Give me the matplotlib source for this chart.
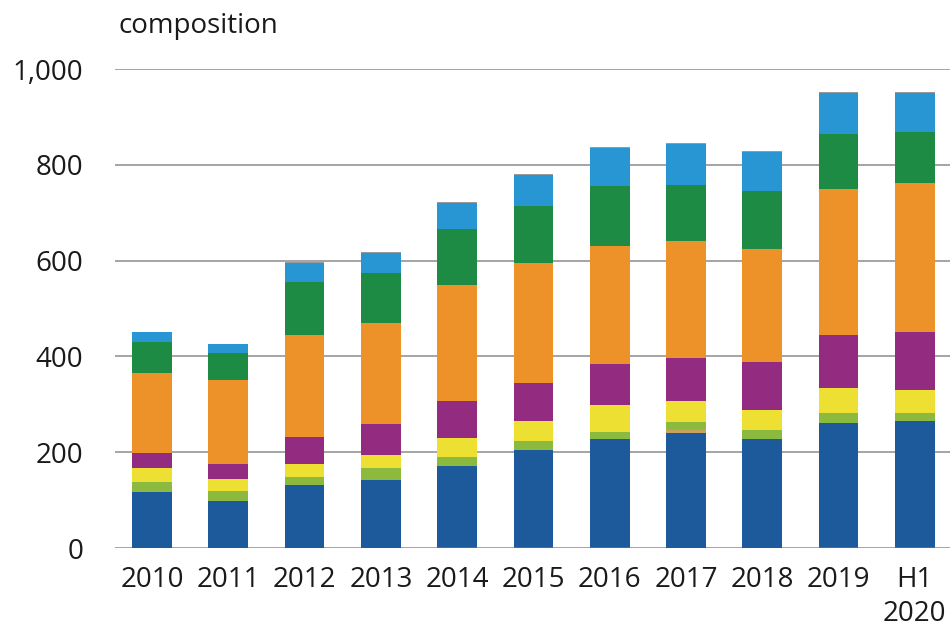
import numpy as np
import matplotlib
matplotlib.use("Agg")
import matplotlib.pyplot as plt
from matplotlib import font_manager

years = ["2010", "2011", "2012", "2013", "2014", "2015", "2016", "2017", "2018", "2019", "H1\n2020"]

# stacked components, bottom to top
red        = [0,   0,   0,   0,   2,   2,   2,   0,   0,   2,   2]
blue       = [117, 99,  132, 141, 169, 202, 226, 240, 227, 260, 264]
tan        = [0,   0,   0,   0,   0,   0,   0,   6,   0,   0,   0]
lightgreen = [21,  21,  16,  25,  19,  19,  15,  18,  19,  20,  15]
yellow     = [30,  25,  27,  28,  40,  43,  56,  43,  43,  52,  49]
purple     = [31,  31,  56,  65,  77,  78,  85,  89,  100, 111, 122]
orange     = [166, 174, 214, 211, 243, 251, 247, 244, 235, 305, 310]
green      = [65,  58,  110, 104, 115, 120, 124, 118, 122, 115, 106]
lightblue  = [21,  17,  41,  42,  56,  63,  81,  86,  81,  84,  82]
grey       = [0,   0,   2,   2,   2,   2,   2,   2,   2,   2,   2]

series = [red, blue, tan, lightgreen, yellow, purple, orange, green, lightblue, grey]
colors = ["#e0352f", "#1c5a9c", "#c9a15e", "#8cba3e", "#eee033", "#932b80",
          "#ec9228", "#1d8b43", "#2896d3", "#9a9a9a"]

installed = {f.name for f in font_manager.fontManager.ttflist}
body_font = "Open Sans" if "Open Sans" in installed else "DejaVu Sans"

fig = plt.figure(figsize=(9.53, 6.39), dpi=100)
ax = fig.add_axes([0.1207, 0.1424, 0.876, 0.7496])

x = np.arange(len(years))
bottom = np.zeros(len(years))
for vals, c in zip(series, colors):
    ax.bar(x, vals, bottom=bottom, width=0.52, color=c, linewidth=0, zorder=3)
    bottom += np.array(vals)

ax.set_ylim(0, 1000)
ax.set_xlim(-0.485, 10.46)
ax.set_yticks(np.arange(0, 1001, 200))
ax.set_yticklabels(["0", "200", "400", "600", "800", "1,000"], fontsize=20, family=body_font,
                   color="#1a1a1a")
ax.set_xticks(x)
ax.set_xticklabels(years, fontsize=20, family=body_font, linespacing=1.3, va="top",
                   color="#1a1a1a")

ax.grid(axis="y", color="#8c8c8c", linewidth=1.1, zorder=0)
for s in ax.spines.values():
    s.set_visible(False)
ax.tick_params(axis="both", length=0)
ax.tick_params(axis="y", pad=23)
ax.tick_params(axis="x", pad=13)

fig.text(0.124, 1 - 33 / 639, "composition", fontsize=20, family=body_font,
         ha="left", va="baseline", color="#1a1a1a")

fig.savefig("out.png", dpi=100)
